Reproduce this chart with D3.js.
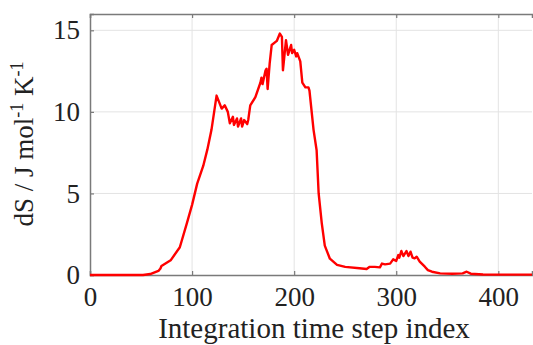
<!DOCTYPE html>
<html><head><meta charset="utf-8">
<script src="https://cdn.jsdelivr.net/npm/d3@7"></script>
<style>body{margin:0;background:#fff}svg{display:block}text{font-family:'Liberation Serif','Times New Roman',serif}</style>
</head><body>
<script>
const steps = [0,52,59,67,69,70,79,88,95,100,105,111,115,119,124,129,132,135,137,140,141,144,145,148,149,151,154,155,157,162,167,168,169,172,173,174,176,178,183,186,188,189,192,194,197,198,200,202,203,206,208,211,214,215,219,222,224,227,230,235,242,250,264,271,274,279,284,286,289,294,297,300,302,303,305,307,310,312,314,316,318,320,323,328,331,335,343,355,365,369,373,385,401,433];
const dS = [0,0,0.06,0.25,0.4,0.55,0.9,1.7,3.2,4.3,5.6,6.7,7.7,8.9,11.0,10.2,10.4,10.0,9.3,9.7,9.2,9.6,9.1,9.6,9.1,9.5,9.25,9.5,10.4,10.9,11.8,12.1,11.7,12.55,12.65,11.4,12.96,14.1,14.35,14.8,14.6,12.55,14.4,13.5,14.1,13.6,13.8,13.4,13.6,13.1,11.8,11.5,11.5,11.3,8.9,7.65,5.0,3.2,1.8,1.0,0.62,0.5,0.41,0.37,0.5,0.5,0.47,0.7,0.65,0.7,0.96,0.86,1.22,1.06,1.47,1.16,1.47,1.16,1.43,1.06,1.02,1.12,0.82,0.51,0.3,0.2,0.1,0.08,0.1,0.2,0.08,0.03,0.02,0.02];
const xTicks = [0,100,200,300,400];
const yTicks = [0,5,10,15];
const xLabel = "Integration time step index";

const W = 533, H = 345;
const m = {left: 90, right: 1, top: 14, bottom: 70};
const svg = d3.select("body").append("svg").attr("width", W).attr("height", H);
const x = d3.scaleLinear().domain([0, 433]).range([m.left, W - m.right]);
const y = d3.scaleLinear().domain([0, 16]).range([H - m.bottom, m.top]);
const font = "'Liberation Serif', 'Times New Roman', serif";

// grid
svg.append("g").selectAll("line").data(xTicks.filter(d => d > 0)).join("line")
  .attr("x1", d => x(d)).attr("x2", d => x(d)).attr("y1", y(0)).attr("y2", y(16))
  .attr("stroke", "#e3e3e3").attr("stroke-width", 1);
svg.append("g").selectAll("line").data(yTicks.filter(d => d > 0)).join("line")
  .attr("x1", x(0)).attr("x2", x(433)).attr("y1", d => y(d)).attr("y2", d => y(d))
  .attr("stroke", "#e3e3e3").attr("stroke-width", 1);

// axes
const xa = svg.append("g").attr("transform", `translate(0,${y(0)})`)
  .call(d3.axisBottom(x).tickValues(xTicks).tickSize(-4).tickPadding(10));
const xt = svg.append("g").attr("transform", `translate(0,${y(16)})`)
  .call(d3.axisTop(x).tickValues(xTicks).tickSize(-4).tickFormat(""));
const ya = svg.append("g").attr("transform", `translate(${x(0)},0)`)
  .call(d3.axisLeft(y).tickValues(yTicks).tickSize(-4).tickPadding(10));
[xa, xt, ya].forEach(g => {
  g.attr("font-family", font).attr("font-size", 27);
  g.select(".domain").attr("stroke", "#7a7a7a").attr("stroke-width", 1.5);
  g.selectAll(".tick line").attr("stroke", "#7a7a7a").attr("stroke-width", 1.2);
  g.selectAll(".tick text").attr("fill", "#222");
});
xa.selectAll(".tick text").attr("dy", "0.78em");

// line
svg.append("path").datum(steps.map((s, i) => [s, dS[i]]))
  .attr("fill", "none").attr("stroke", "#ff0000").attr("stroke-width", 2.4)
  .attr("stroke-linejoin", "round")
  .attr("d", d3.line().x(d => x(d[0])).y(d => y(d[1])));

// labels
svg.append("text").attr("x", 314).attr("y", 338).attr("text-anchor", "middle")
  .attr("fill", "#222").attr("font-family", font).attr("font-size", 29).text(xLabel);
const yl = svg.append("text").attr("transform", `translate(33,${144}) rotate(-90)`)
  .attr("text-anchor", "middle").attr("fill", "#222")
  .attr("font-family", font).attr("font-size", 27);
yl.append("tspan").text("dS / J mol");
yl.append("tspan").attr("dy", -10).attr("font-size", 18).text("-1");
yl.append("tspan").attr("dy", 10).text(" K");
yl.append("tspan").attr("dy", -10).attr("font-size", 18).text("-1");
</script>
</body></html>
